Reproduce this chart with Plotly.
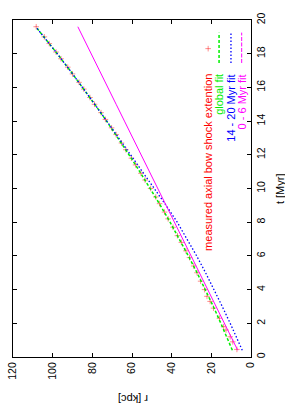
import plotly.graph_objects as go

# ---- data ----
t_meas = [0.45, 0.9, 1.2, 1.6, 1.8, 2.3, 2.9, 3.3, 3.6, 4.0, 4.5, 5.0, 5.4, 5.9,
          6.3, 6.8, 7.2, 7.7, 8.2, 8.6, 9.1, 9.5, 10.0, 10.5, 10.9, 11.4, 11.8,
          12.3, 12.7, 13.2, 13.6, 14.1, 14.5, 15.0, 15.4, 15.9, 16.3, 16.8,
          17.2, 17.7, 18.1, 18.6, 19.0, 19.6]
r_meas = [7.1, 9.2, 10.5, 12.6, 13.8, 15.9, 18.9, 20.6, 22.2, 23.4, 25.4, 27.2,
          28.9, 31.0, 32.8, 35.1, 37.1, 39.3, 41.8, 43.6, 46.1, 48.0, 50.6, 53.4,
          55.5, 58.2, 60.3, 63.1, 65.3, 68.0, 70.3, 73.4, 75.6, 78.9, 81.2, 84.3,
          86.7, 90.0, 92.4, 95.8, 98.3, 101.7, 104.2, 108.3]

t_fit = [0.4, 1, 2, 3, 4, 5, 6, 7, 8, 9, 10, 11, 12, 13, 14, 15, 16, 17, 18, 19, 19.6]
r_global = [9.4, 11.5, 15.2, 19.0, 23.0, 27.2, 31.6, 36.1, 40.8, 45.7, 50.8, 56.1,
            61.5, 67.1, 72.8, 78.8, 84.9, 91.2, 97.7, 104.4, 108.5]
r_late = [4.4, 6.6, 10.5, 14.5, 18.6, 22.9, 27.4, 32.1, 37.2, 42.8, 48.7, 54.7,
          60.7, 66.7, 72.7, 78.8, 84.9, 91.2, 97.7, 104.4, 108.5]
r_early = [6.7, 9.2, 13.4, 17.6, 21.8, 26.0, 30.2, 34.4, 38.6, 42.8, 47.0, 51.2,
           55.4, 59.6, 63.8, 68.0, 72.2, 76.4, 80.6, 84.8, 87.3]

r_ticks = [0, 20, 40, 60, 80, 100, 120]
t_ticks = [0, 2, 4, 6, 8, 10, 12, 14, 16, 18, 20]

legend_labels = ["measured axial bow shock extention", "global fit",
                 "14 - 20 Myr fit", "0 - 6 Myr fit"]
colors = ["rgba(255,0,0,0.45)", "#00ee00", "#0000ff", "#ff00ff"]
text_colors = ["#ff0000", "#00ee00", "#0000ff", "#ff00ff"]

FONT = "Liberation Sans, Arial, sans-serif"

fig = go.Figure()

fig.add_trace(go.Scatter(x=r_meas, y=t_meas, mode="markers",
                         marker=dict(symbol="cross-thin", size=4,
                                     line=dict(color=colors[0], width=1)),
                         showlegend=False))
fig.add_trace(go.Scatter(x=r_global, y=t_fit, mode="lines",
                         line=dict(color=colors[1], width=1.5, dash="3px,2px"),
                         showlegend=False))
fig.add_trace(go.Scatter(x=r_late, y=t_fit, mode="lines",
                         line=dict(color=colors[2], width=1.3, dash="1.5px,2px"),
                         showlegend=False))
fig.add_trace(go.Scatter(x=r_early, y=t_fit, mode="lines",
                         line=dict(color=colors[3], width=1),
                         showlegend=False))

# ---- manual legend (rotated like the reference) ----
leg_r = [21.6, 16.1, 10.1, 4.7]
text_top_t = 16.9
sample_t = [17.45, 19.25]
fig.add_trace(go.Scatter(x=[leg_r[0]], y=[18.3], mode="markers",
                         marker=dict(symbol="cross-thin", size=4,
                                     line=dict(color=colors[0], width=1)),
                         showlegend=False))
fig.add_trace(go.Scatter(x=[leg_r[1]] * 2, y=sample_t, mode="lines",
                         line=dict(color=colors[1], width=1.5, dash="3px,2px"),
                         showlegend=False))
fig.add_trace(go.Scatter(x=[leg_r[2]] * 2, y=sample_t, mode="lines",
                         line=dict(color=colors[2], width=1.3, dash="1.5px,2px"),
                         showlegend=False))
fig.add_trace(go.Scatter(x=[leg_r[3]] * 2, y=sample_t, mode="lines",
                         line=dict(color=colors[3], width=1, dash="4px,1.5px"),
                         showlegend=False))
for lab, rr, col in zip(legend_labels, leg_r, text_colors):
    fig.add_annotation(x=rr, y=text_top_t, xref="x", yref="y", text=lab,
                       showarrow=False, textangle=-90, xanchor="center",
                       yanchor="top", font=dict(family=FONT, size=11, color=col))

# axis titles (rotated as in the reference)
fig.add_annotation(x=0.504, y=-0.125, xref="paper", yref="paper", text="r [kpc]",
                   showarrow=False, textangle=180, xanchor="center", yanchor="middle",
                   font=dict(family=FONT, size=11, color="black"))
fig.add_annotation(x=1.12, y=0.5, xref="paper", yref="paper", text="t [Myr]",
                   showarrow=False, textangle=-90, xanchor="center", yanchor="middle",
                   font=dict(family=FONT, size=11, color="black"))

fig.update_xaxes(range=[120, 0], tickvals=r_ticks, ticktext=[str(v) for v in r_ticks],
                 tickangle=-90, ticks="inside", ticklen=4, tickcolor="black",
                 showline=True, linecolor="black", linewidth=1, mirror="ticks",
                 showgrid=False, zeroline=False, automargin=False,
                 ticklabeloverflow="allow",
                 tickfont=dict(family=FONT, size=10.5, color="black"))
fig.update_yaxes(range=[0, 20], tickvals=t_ticks, side="right",
                 tickangle=-90, ticks="inside", ticklen=4, tickcolor="black",
                 showline=True, linecolor="black", linewidth=1, mirror="ticks",
                 showgrid=False, zeroline=False, automargin=False,
                 ticklabeloverflow="allow",
                 tickfont=dict(family=FONT, size=10.5, color="black"))

fig.update_layout(width=285, height=407, margin=dict(l=13, r=34, t=20, b=50),
                  plot_bgcolor="white", paper_bgcolor="white")

fig.write_html("out.html", config={"displayModeBar": False},
               post_script="document.body.style.margin='0';document.body.style.overflow='hidden';")
